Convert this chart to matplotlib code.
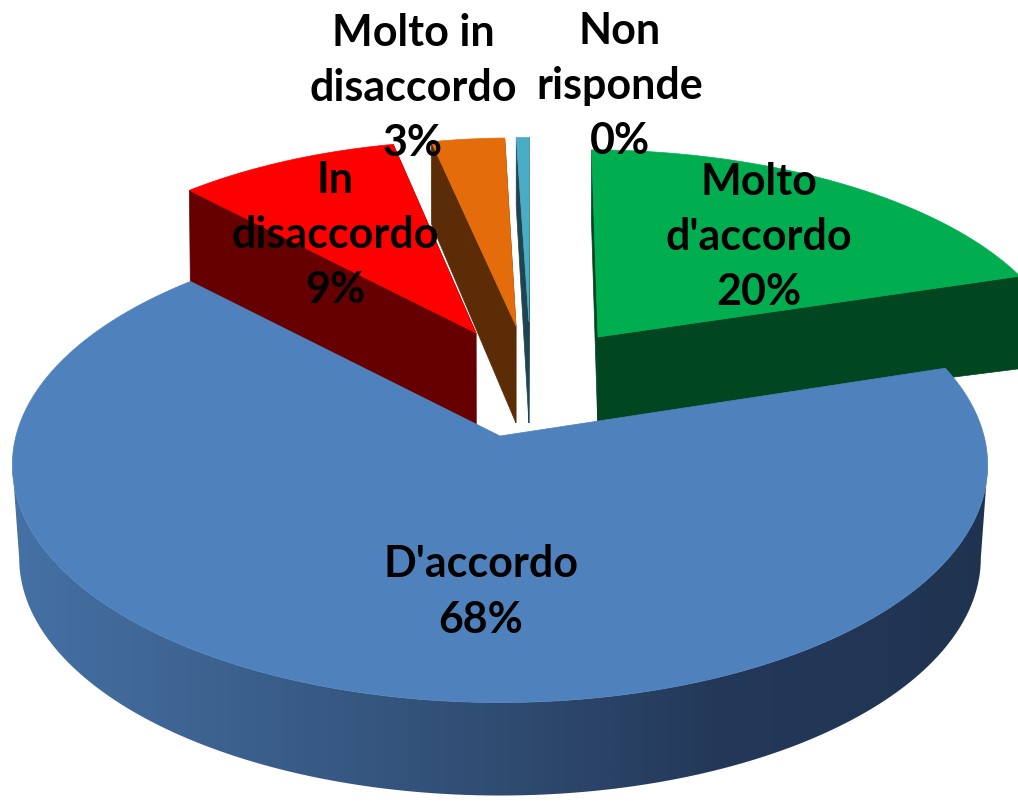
import matplotlib

matplotlib.use("Agg")
import matplotlib.pyplot as plt
import numpy as np
from matplotlib.colors import LinearSegmentedColormap
from matplotlib.patches import Polygon

# data, clockwise from the top
labels = ["Molto\nd'accordo\n20%", "D'accordo\n68%", "In\ndisaccordo\n9%", "Molto in\ndisaccordo\n3%", "Non\nrisponde\n0%"]
values = [20.0, 67.6, 8.85, 3.0, 0.53]

top_colors = ["#00ae50", "#4f81bd", "#ff0000", "#e46c0a", "#4bacc6"]
side_colors = ["#004620", "#1f3350", "#660000", "#5b2c06", "#1e4450"]

# layout of the exploded slices in pixels
apex_x = [598, 500, 476, 516, 529]
apex_y = [337, 436, 333, 326, 322]
radius_x = [462, 484, 451, 440, 450]
radius_y = [210, 234, 216, 211, 207]
depth_apex = [85, 92, 92, 97, 101]
depth_extra = [0, 0, 6, 12, 0]
converge = [0.0035, 0.014, 0.003, 0.003, 0.003]
label_x = [759, 481, 335, 413, 620]
label_y = [237, 592, 235, 88, 86]

START_ANGLE = 0.5
PERSPECTIVE = 0.122
SHEAR = 0.00054
DEPTH_SIDE = 93
DEPTH_BACK = 68
CENTER_X = 500

rim_cmap = LinearSegmentedColormap.from_list(
    "rim",
    [(0.0, "#4672a6"), (0.3, "#385b86"), (0.5, "#2f4b70"), (0.7, "#24395a"), (1.0, "#1f3350")],
)


def project(i, angle):
    t = np.radians(angle)
    s = 1.0 / (1.0 + PERSPECTIVE * np.cos(t))
    y = apex_y[i] - radius_y[i] * np.cos(t) * s
    x = apex_x[i] + radius_x[i] * np.sin(t) * s + SHEAR * (apex_x[i] - CENTER_X) * (y - apex_y[i])
    return x, y


def drop(i, x, y, depth):
    return x + (CENTER_X - x) * converge[i], y + depth


def rim_depth(angle):
    c = max(np.cos(np.radians(angle)), 0.0)
    return DEPTH_SIDE - (DEPTH_SIDE - DEPTH_BACK) * c**4


def cut_face(ax, i, angle):
    x0, y0 = apex_x[i], apex_y[i]
    x1, y1 = project(i, angle)
    x2, y2 = drop(i, x1, y1, rim_depth(angle) + depth_extra[i])
    x3, y3 = drop(i, x0, y0, depth_apex[i])
    ax.add_patch(Polygon([(x0, y0), (x1, y1), (x2, y2), (x3, y3)], closed=True, fc=side_colors[i], ec=side_colors[i], lw=0.5))


def top_face(ax, i, a0, a1):
    angles = np.linspace(a0, a1, 200)
    xs, ys = project(i, angles)
    pts = [(apex_x[i], apex_y[i])] + list(zip(xs, ys))
    ax.add_patch(Polygon(pts, closed=True, fc=top_colors[i], ec=top_colors[i], lw=0.5))


def rim(ax, i, a0, a1):
    # gradient image clipped to the outer wall of the slice
    angles = np.linspace(a0, a1, 260)
    xs, ys = project(i, angles)
    bx, by = drop(i, xs, ys, DEPTH_SIDE)
    pts = list(zip(xs, ys)) + list(zip(bx[::-1], by[::-1]))
    wall = Polygon(pts, closed=True, fc="none", ec="none")
    ax.add_patch(wall)
    gradient = np.linspace(0, 1, 512).reshape(1, -1)
    im = ax.imshow(gradient, cmap=rim_cmap, extent=(0, 1018, 809, 0), aspect="auto", interpolation="bilinear")
    im.set_clip_path(wall)


fig = plt.figure(figsize=(10.18, 8.09), dpi=100)
ax = fig.add_axes([0, 0, 1, 1])

spans = np.array(values) / sum(values) * 360
starts = START_ANGLE + np.concatenate([[0], np.cumsum(spans)[:-1]])
ends = starts + spans

# back to front, the blue slice goes over everything
for i in [4, 3, 2, 0]:
    cut_face(ax, i, ends[i])
    cut_face(ax, i, starts[i])
    top_face(ax, i, starts[i], ends[i])

rim(ax, 1, 97, 263)
top_face(ax, 1, starts[1], ends[1])

for i, text in enumerate(labels):
    ax.text(label_x[i], label_y[i], text, ha="center", va="center", family="Lato", fontweight="bold",
            fontsize=31, color="black", linespacing=1.46)

ax.set_xlim(0, 1018)
ax.set_ylim(809, 0)
ax.axis("off")

fig.savefig("out.png", dpi=100)
plt.close(fig)
